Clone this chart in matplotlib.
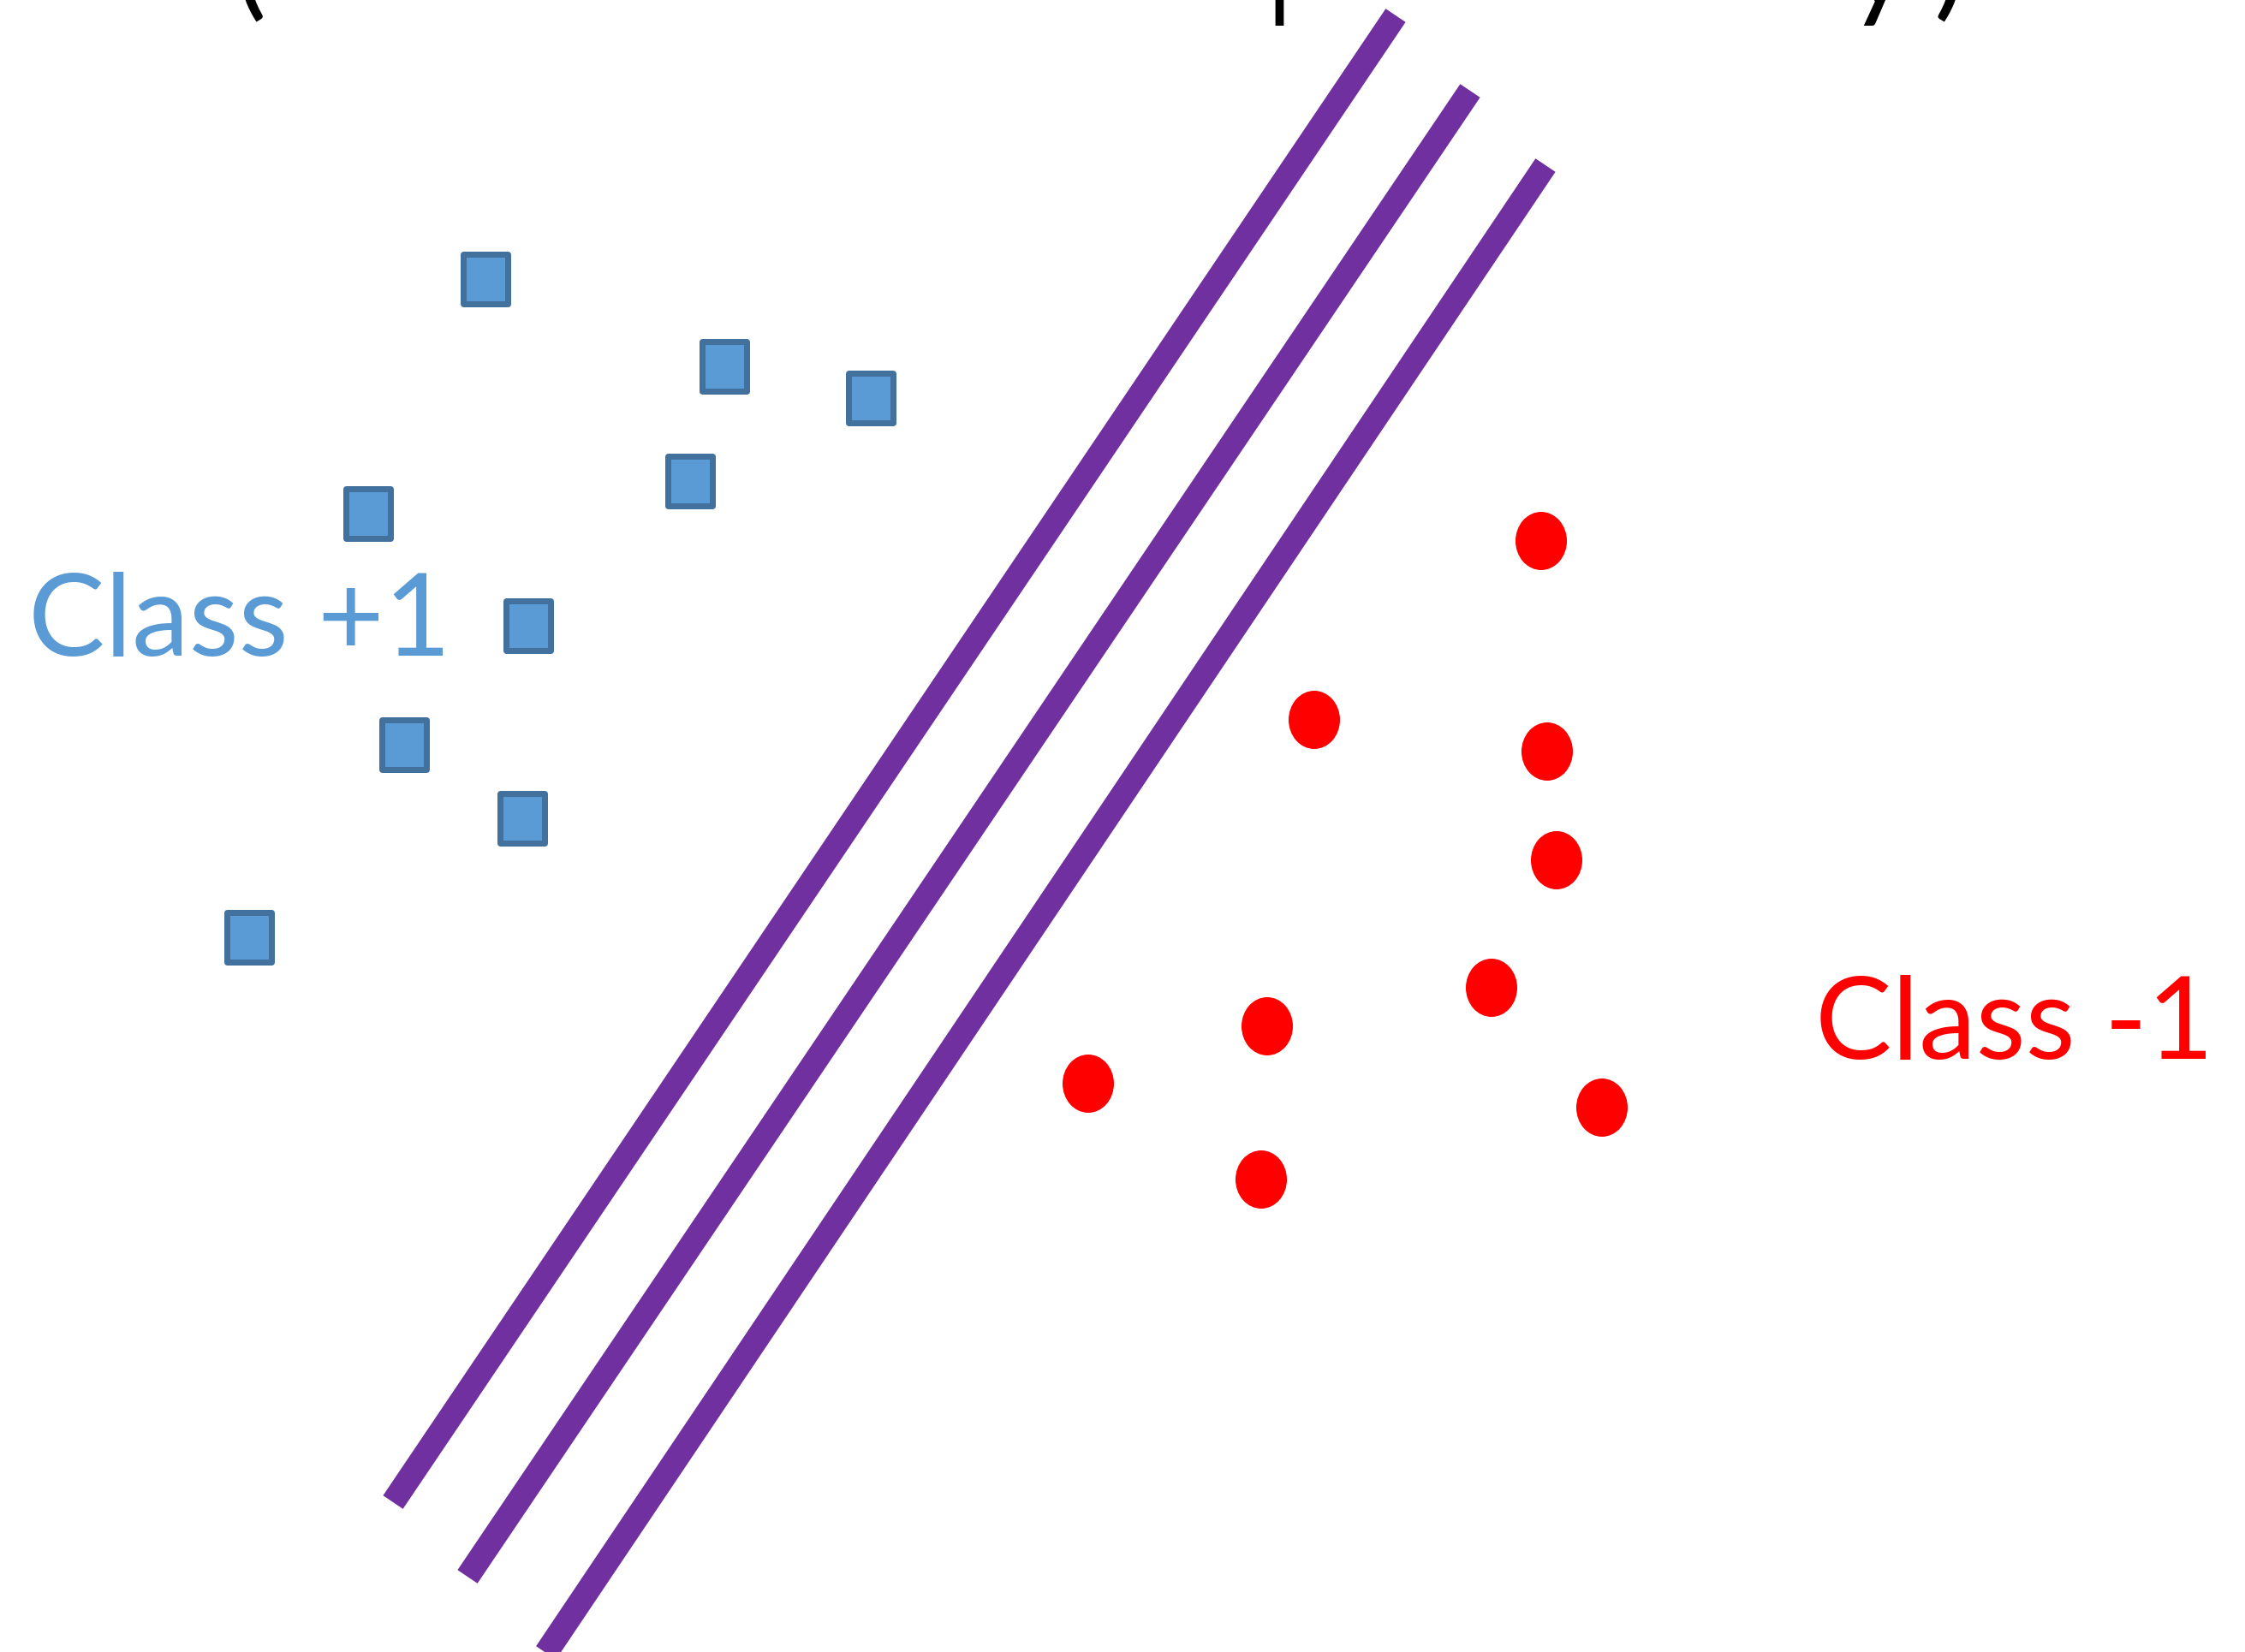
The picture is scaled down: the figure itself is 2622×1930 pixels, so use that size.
import matplotlib.pyplot as plt
from matplotlib.collections import EllipseCollection
from matplotlib.path import Path
import numpy as np

# canvas is drawn in pixel units of the reference (origin top-left)
W, H = 2622, 1930
DPI = 100
PT = 72.0 / DPI  # pixels -> points

# Class +1 samples (blue squares)
square_x = [567, 846, 1017, 806, 430, 617, 472, 610, 291]
square_y = [326, 428, 465, 562, 600, 731, 870, 956, 1095]

# Class -1 samples (red dots)
dot_x = [1800, 1535, 1807, 1818, 1742, 1480, 1271, 1871, 1473]
dot_y = [632, 841, 878, 1005, 1154, 1199, 1266, 1294, 1378]

# separating hyperplane and the two margins: (x0, y0, x1, y1)
line_x0 = [459, 546, 635]
line_y0 = [1755, 1842, 1935]
line_x1 = [1630, 1717, 1805]
line_y1 = [18, 106, 193]

# bits of a cut-off formula at the top edge
top_chars = ['(', '|', 'y', ')']
top_char_x = [292, 1494, 2195, 2277]

BLUE = '#5B9BD5'
BLUE_EDGE = '#41719C'
RED = '#FF0000'
PURPLE = '#7030A0'

fig = plt.figure(figsize=(W / DPI, H / DPI), dpi=DPI)
ax = fig.add_axes([0, 0, 1, 1])
ax.set_xlim(0, W)
ax.set_ylim(H, 0)
ax.axis('off')

for x0, y0, x1, y1 in zip(line_x0, line_y0, line_x1, line_y1):
    ax.plot([x0, x1], [y0, y1], color=PURPLE, linewidth=28 * PT,
            solid_capstyle='butt')

# slightly taller than wide, like the reference
rect = Path([(-0.44, -0.5), (0.44, -0.5), (0.44, 0.5), (-0.44, 0.5),
             (-0.44, -0.5)], closed=True)
ax.plot(square_x, square_y, linestyle='none', marker=rect,
        markersize=58 * PT, markerfacecolor=BLUE, markeredgecolor=BLUE_EDGE,
        markeredgewidth=7 * PT)

n = len(dot_x)
dots = EllipseCollection(np.full(n, 60), np.full(n, 68), np.zeros(n),
                         units='xy', offsets=np.column_stack([dot_x, dot_y]),
                         offset_transform=ax.transData,
                         facecolors=RED, edgecolors='none')
ax.add_collection(dots)

ax.text(33, 766, 'Class +1', color=BLUE, fontsize=134 * PT, family='Lato',
        ha='left', va='baseline')
ax.text(2585, 1237, 'Class -1', color=RED, fontsize=134 * PT, family='Lato',
        ha='right', va='baseline')

for ch, x in zip(top_chars, top_char_x):
    ax.text(x, 6, ch, color='black', fontsize=140 * PT, family='Lato',
            ha='center', va='baseline', clip_on=False)

fig.savefig('out.png', dpi=DPI, facecolor='white')
